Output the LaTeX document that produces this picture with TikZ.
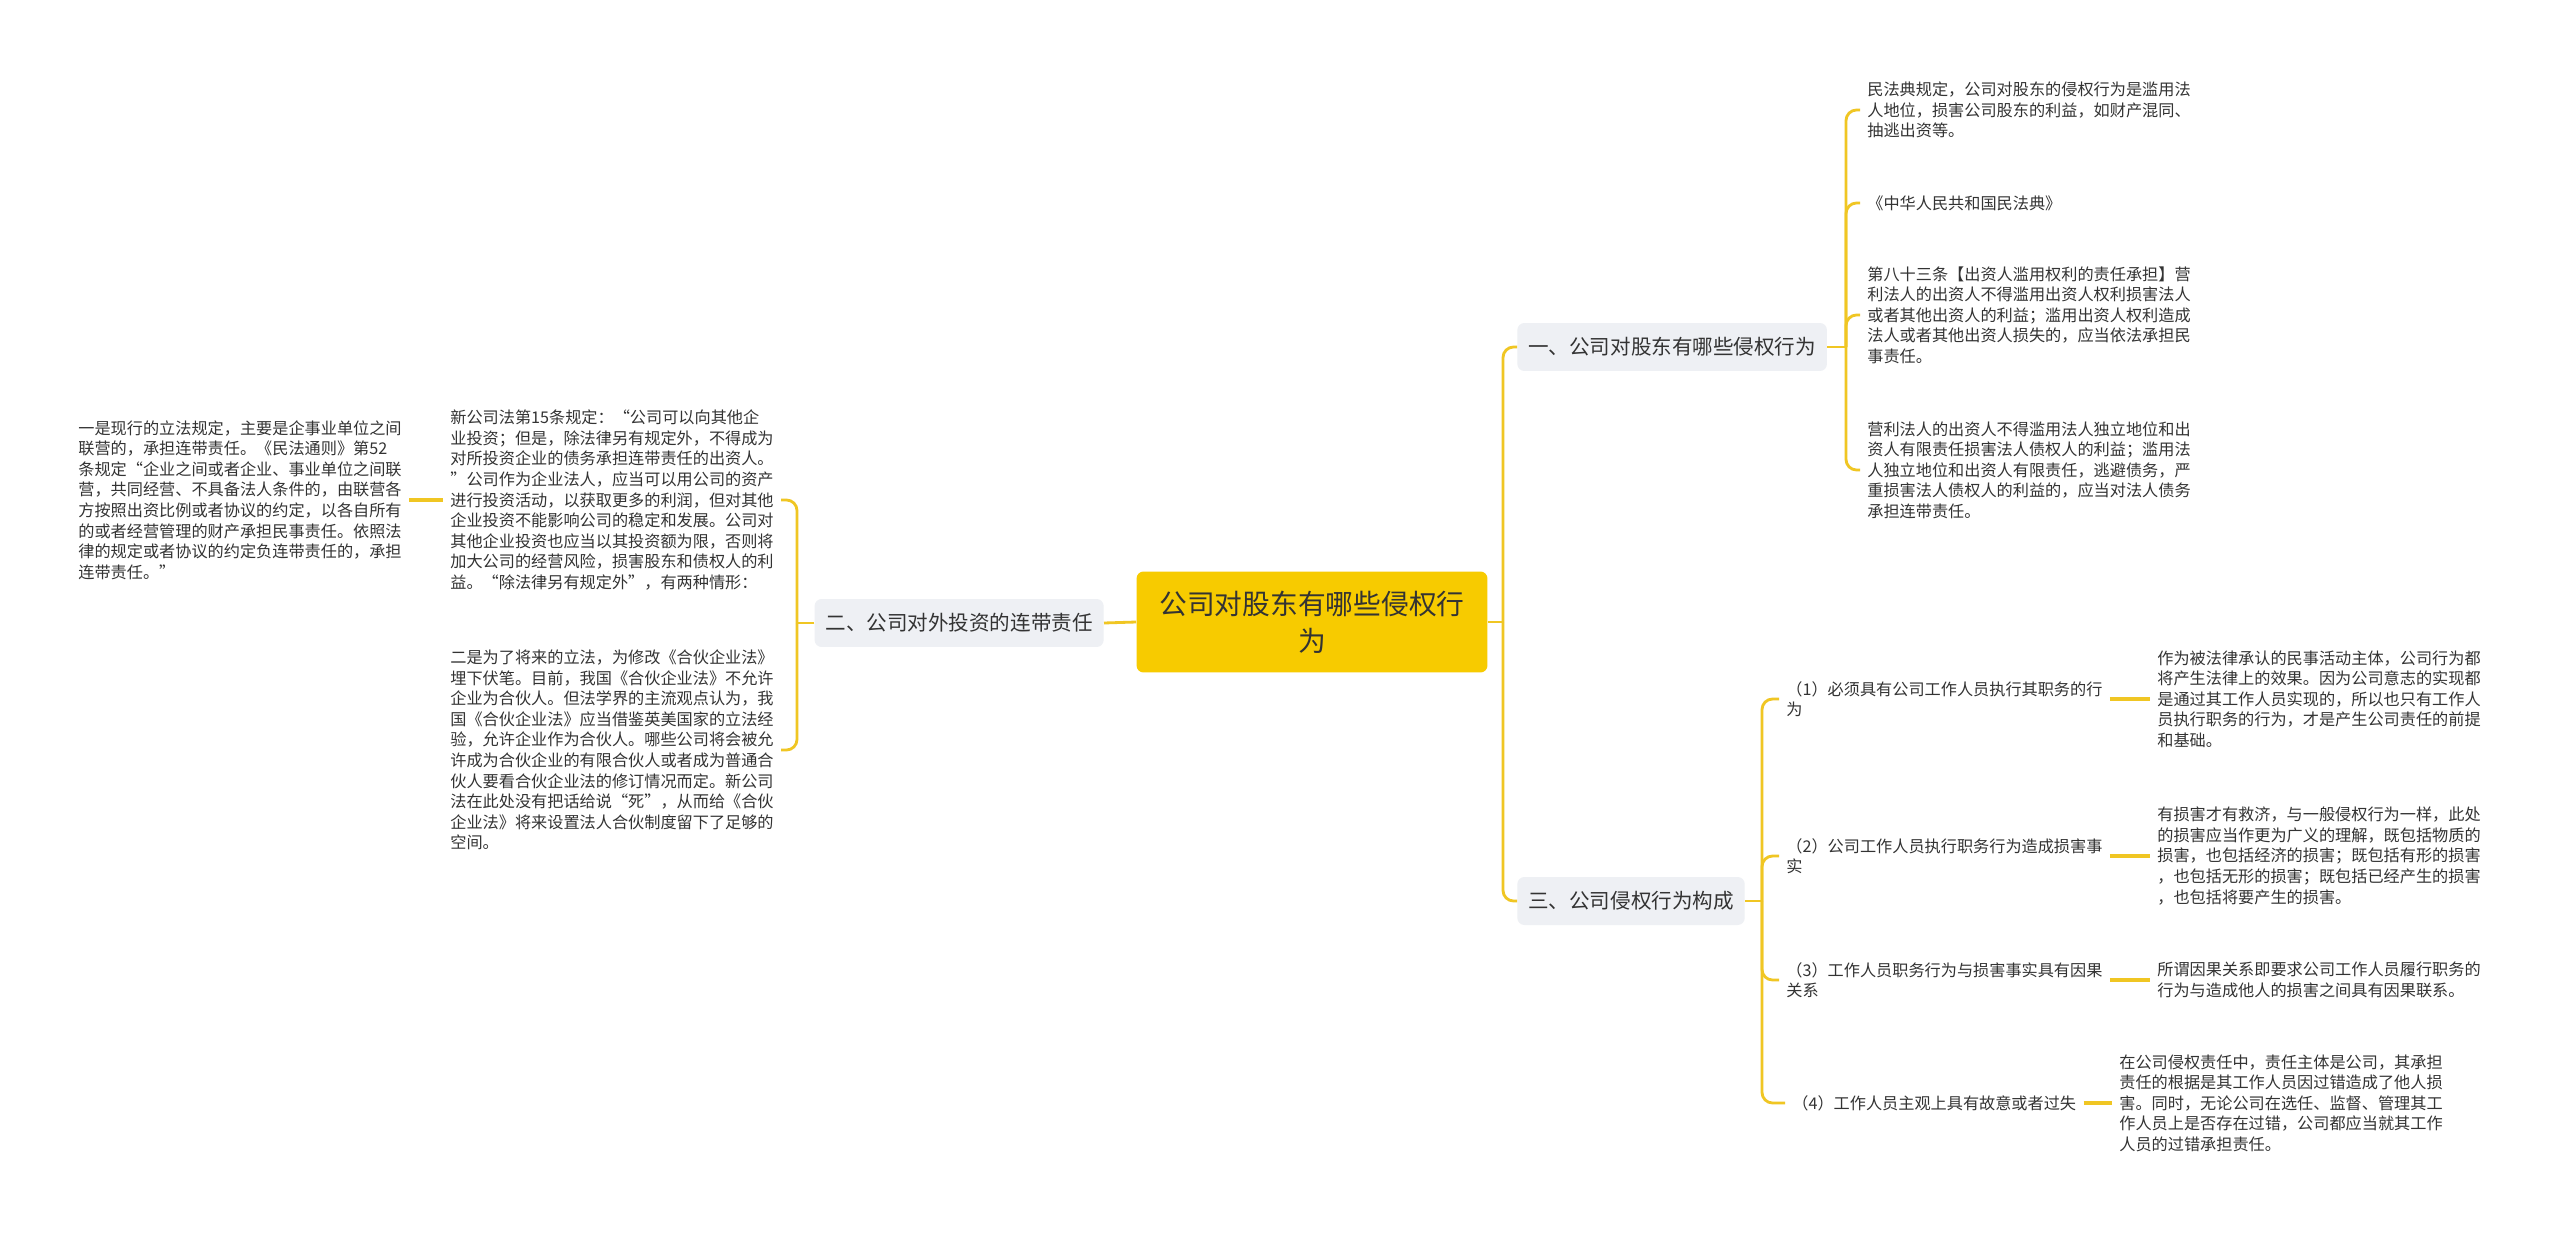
\documentclass[tikz,border=0pt]{standalone}
\usepackage{fontspec}
\newfontfamily\cjk{Noto Sans CJK SC}
\definecolor{rootyellow}{RGB}{247,203,0}
\definecolor{branchgray}{RGB}{238,240,244}
\definecolor{linkyellow}{RGB}{240,198,35}
\definecolor{ink}{RGB}{51,51,51}

\begin{document}
\begin{tikzpicture}[x=0.02cm, y=-0.02cm,
  root/.style={rectangle, fill=rootyellow, rounded corners=4pt, minimum width=7.02cm, minimum height=2.02cm, align=center, text=ink, font=\cjk\fontsize{15.8}{21}\selectfont},
  branch/.style={rectangle, fill=branchgray, rounded corners=4pt, minimum height=0.96cm, inner xsep=6.2pt, text=ink, font=\cjk\fontsize{11.7}{14}\selectfont},
  leaf/.style={rectangle, inner xsep=4pt, inner ysep=2pt, align=left, text=ink, font=\cjk\fontsize{9.2}{11.7}\selectfont},
  link/.style={draw=linkyellow, line width=1.6pt},
  hook/.style={link, rounded corners=6pt},
  stub/.style={draw=linkyellow, line width=1.9pt}
]
  \fill[white] (0,0) rectangle (2560,1233);
  \useasboundingbox (0,0) rectangle (2560,1233);

  \node[root] (root) at (1312,622) {公司对股东有哪些侵权行\\为};

  \node[branch, anchor=west] (b1) at (1517,347) {一、公司对股东有哪些侵权行为};
  \node[branch, anchor=east] (b2) at (1104,623) {二、公司对外投资的连带责任};
  \node[branch, anchor=west] (b3) at (1517,901) {三、公司侵权行为构成};

  \node[leaf, anchor=west] (c1) at (1860,110) {民法典规定，公司对股东的侵权行为是滥用法\\人地位，损害公司股东的利益，如财产混同、\\抽逃出资等。};
  \node[leaf, anchor=west] (c2) at (1860,203) {《中华人民共和国民法典》};
  \node[leaf, anchor=west] (c3) at (1860,315) {第八十三条【出资人滥用权利的责任承担】营\\利法人的出资人不得滥用出资人权利损害法人\\或者其他出资人的利益；滥用出资人权利造成\\法人或者其他出资人损失的，应当依法承担民\\事责任。};
  \node[leaf, anchor=west] (c4) at (1860,470) {营利法人的出资人不得滥用法人独立地位和出\\资人有限责任损害法人债权人的利益；滥用法\\人独立地位和出资人有限责任，逃避债务，严\\重损害法人债权人的利益的，应当对法人债务\\承担连带责任。};

  \node[leaf, anchor=west] (a1) at (443,500) {新公司法第15条规定：“公司可以向其他企\\业投资；但是，除法律另有规定外，不得成为\\对所投资企业的债务承担连带责任的出资人。\\”公司作为企业法人，应当可以用公司的资产\\进行投资活动，以获取更多的利润，但对其他\\企业投资不能影响公司的稳定和发展。公司对\\其他企业投资也应当以其投资额为限，否则将\\加大公司的经营风险，损害股东和债权人的利\\益。“除法律另有规定外”，有两种情形：};
  \node[leaf, anchor=west] (a2) at (443,750) {二是为了将来的立法，为修改《合伙企业法》\\埋下伏笔。目前，我国《合伙企业法》不允许\\企业为合伙人。但法学界的主流观点认为，我\\国《合伙企业法》应当借鉴英美国家的立法经\\验，允许企业作为合伙人。哪些公司将会被允\\许成为合伙企业的有限合伙人或者成为普通合\\伙人要看合伙企业法的修订情况而定。新公司\\法在此处没有把话给说“死”，从而给《合伙\\企业法》将来设置法人合伙制度留下了足够的\\空间。};
  \node[leaf, anchor=west] (g1) at (71,500) {一是现行的立法规定，主要是企事业单位之间\\联营的，承担连带责任。《民法通则》第52\\条规定“企业之间或者企业、事业单位之间联\\营，共同经营、不具备法人条件的，由联营各\\方按照出资比例或者协议的约定，以各自所有\\的或者经营管理的财产承担民事责任。依照法\\律的规定或者协议的约定负连带责任的，承担\\连带责任。”};

  \node[leaf, anchor=west] (d1) at (1779,699) {（1）必须具有公司工作人员执行其职务的行\\为};
  \node[leaf, anchor=west] (d2) at (1779,856) {（2）公司工作人员执行职务行为造成损害事\\实};
  \node[leaf, anchor=west] (d3) at (1779,980) {（3）工作人员职务行为与损害事实具有因果\\关系};
  \node[leaf, anchor=west] (d4) at (1785,1103) {（4）工作人员主观上具有故意或者过失};

  \node[leaf, anchor=west] (e1) at (2150,699) {作为被法律承认的民事活动主体，公司行为都\\将产生法律上的效果。因为公司意志的实现都\\是通过其工作人员实现的，所以也只有工作人\\员执行职务的行为，才是产生公司责任的前提\\和基础。};
  \node[leaf, anchor=west] (e2) at (2150,856) {有损害才有救济，与一般侵权行为一样，此处\\的损害应当作更为广义的理解，既包括物质的\\损害，也包括经济的损害；既包括有形的损害\\，也包括无形的损害；既包括已经产生的损害\\，也包括将要产生的损害。};
  \node[leaf, anchor=west] (e3) at (2150,980) {所谓因果关系即要求公司工作人员履行职务的\\行为与造成他人的损害之间具有因果联系。};
  \node[leaf, anchor=west] (e4) at (2112,1103) {在公司侵权责任中，责任主体是公司，其承担\\责任的根据是其工作人员因过错造成了他人损\\害。同时，无论公司在选任、监督、管理其工\\作人员上是否存在过错，公司都应当就其工作\\人员的过错承担责任。};

  \coordinate (rt) at (1503,622);
  \coordinate (t1) at (1846,347);
  \coordinate (t2) at (797,623);
  \coordinate (t3) at (1762,901);

  \draw[link] (root.east) -- (rt);
  \draw[hook] (rt) |- (b1.west);
  \draw[hook] (rt) |- (b3.west);
  \draw[link] (root.west) -- (b2.east);

  \draw[link] (b1.east) -- (t1);
  \draw[hook] (t1) |- (c1.west);
  \draw[hook] (t1) |- (c2.west);
  \draw[hook] (t1) |- (c3.west);
  \draw[hook] (t1) |- (c4.west);

  \draw[link] (b2.west) -- (t2);
  \draw[hook] (t2) |- (a1.east);
  \draw[hook] (t2) |- (a2.east);
  \draw[stub] (g1.east) -- (a1.west);

  \draw[link] (b3.east) -- (t3);
  \draw[hook] (t3) |- (d1.west);
  \draw[hook] (t3) |- (d2.west);
  \draw[hook] (t3) |- (d3.west);
  \draw[hook] (t3) |- (d4.west);

  \draw[stub] (d1.east) -- (e1.west);
  \draw[stub] (d2.east) -- (e2.west);
  \draw[stub] (d3.east) -- (e3.west);
  \draw[stub] (d4.east) -- (e4.west);
\end{tikzpicture}
\end{document}
